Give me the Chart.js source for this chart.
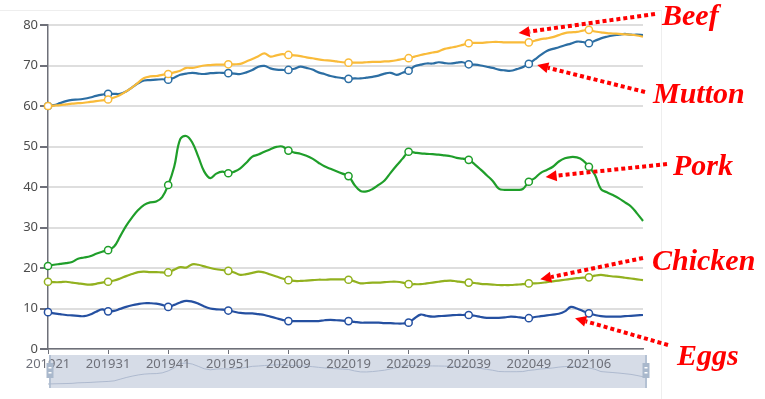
<!DOCTYPE html>
<html lang="en">
<head>
<meta charset="UTF-8">
<title>Meat prices</title>
<style>
  body { margin: 0; background: #fff; }
  #chart { display: block; }
</style>
</head>
<body>
<canvas id="chart" width="765" height="399"></canvas>
<script src="https://cdn.jsdelivr.net/npm/chart.js@4/dist/chart.umd.min.js"></script>
<script>
// week codes (yyyyww), 201921 .. 202115
const weeks = [
  '201921','201922','201923','201924','201925','201926','201927','201928','201929','201930',
  '201931','201932','201933','201934','201935','201936','201937','201938','201939','201940',
  '201941','201942','201943','201944','201945','201946','201947','201948','201949','201950',
  '201951','201952','202001','202002','202003','202004','202005','202006','202007','202008',
  '202009','202010','202011','202012','202013','202014','202015','202016','202017','202018',
  '202019','202020','202021','202022','202023','202024','202025','202026','202027','202028',
  '202029','202030','202031','202032','202033','202034','202035','202036','202037','202038',
  '202039','202040','202041','202042','202043','202044','202045','202046','202047','202048',
  '202049','202050','202051','202052','202053','202101','202102','202103','202104','202105',
  '202106','202107','202108','202109','202110','202111','202112','202113','202114','202115'
];

const beef = [
  60.0,60.1,60.2,60.4,60.6,60.7,60.8,61.0,61.2,61.4,
  61.6,62.1,62.7,63.6,64.6,65.8,66.9,67.3,67.4,67.7,
  67.9,68.3,68.7,69.4,69.4,69.7,70.0,70.1,70.2,70.2,
  70.3,70.3,70.4,71.0,71.6,72.3,73.0,72.2,72.5,72.8,
  72.6,72.5,72.3,72.0,71.8,71.5,71.3,71.2,71.0,70.8,
  70.7,70.7,70.7,70.8,70.9,70.9,71.0,71.1,71.3,71.6,
  71.8,72.2,72.6,72.9,73.2,73.5,74.1,74.4,74.7,75.1,
  75.5,75.6,75.6,75.7,75.8,75.8,75.7,75.7,75.7,75.7,
  75.7,76.1,76.5,76.7,77.0,77.5,78.0,78.2,78.3,78.6,
  78.8,78.4,78.2,78.0,77.9,77.8,77.7,77.6,77.4,77.1
];

const mutton = [
  60.0,60.2,60.7,61.2,61.5,61.6,61.8,62.1,62.5,62.8,
  63.0,63.0,63.0,63.6,64.6,65.6,66.3,66.4,66.5,66.6,
  66.5,67.0,67.7,68.0,68.2,68.0,67.9,68.1,68.2,68.2,
  68.1,68.0,67.9,68.3,68.9,69.7,69.9,69.3,69.0,68.9,
  68.9,69.2,69.7,69.4,69.0,68.3,67.9,67.4,67.1,66.9,
  66.7,66.8,66.8,67.0,67.2,67.5,68.0,68.2,67.7,68.2,
  68.7,69.8,70.2,70.5,70.5,70.8,70.6,70.5,70.7,70.8,
  70.3,70.2,70.0,69.7,69.4,69.0,68.8,68.7,69.1,69.6,
  70.4,71.5,72.6,73.6,74.1,74.5,75.0,75.4,75.9,75.8,
  75.5,76.1,76.7,77.1,77.4,77.6,77.8,77.6,77.6,77.5
];

const pork = [
  20.5,20.8,21.0,21.2,21.5,22.3,22.6,22.9,23.5,24.0,
  24.4,25.3,27.8,30.4,32.5,34.3,35.6,36.2,36.4,37.5,
  40.5,45.0,51.8,52.6,51.0,47.5,43.8,42.2,43.3,43.8,
  43.4,43.8,44.6,46.0,47.5,48.0,48.7,49.3,49.9,50.0,
  49.0,48.5,48.2,47.7,47.0,46.0,45.1,44.5,43.9,43.3,
  42.7,40.5,39.0,38.9,39.5,40.5,41.6,43.5,45.3,47.0,
  48.7,48.5,48.3,48.2,48.1,48.0,47.8,47.6,47.2,47.0,
  46.7,45.6,44.3,42.9,41.5,39.6,39.3,39.3,39.3,39.5,
  41.3,42.2,43.5,44.2,45.0,46.3,47.1,47.4,47.3,46.6,
  45.0,43.0,39.5,38.7,38.0,37.2,36.2,35.2,33.5,31.6
];

const chicken = [
  16.6,16.5,16.5,16.6,16.4,16.2,16.0,15.9,16.1,16.4,
  16.6,16.9,17.4,18.0,18.5,19.0,19.1,19.0,19.0,18.9,
  18.9,19.6,20.2,20.1,20.9,20.8,20.4,20.0,19.7,19.5,
  19.3,18.9,18.3,18.5,18.8,19.1,18.9,18.4,17.9,17.4,
  17.0,16.8,16.8,16.9,17.0,17.1,17.1,17.2,17.2,17.2,
  17.1,16.7,16.2,16.3,16.4,16.4,16.5,16.6,16.6,16.4,
  16.0,16.0,16.0,16.2,16.4,16.6,16.8,16.9,16.7,16.5,
  16.4,16.3,16.1,16.0,15.9,15.8,15.8,15.8,15.9,16.0,
  16.2,16.2,16.3,16.5,16.7,16.9,17.1,17.3,17.5,17.6,
  17.7,18.1,18.3,18.1,17.9,17.8,17.6,17.4,17.2,17.0
];

const eggs = [
  9.1,8.8,8.6,8.4,8.3,8.2,8.1,8.5,9.2,9.8,
  9.3,9.4,9.9,10.4,10.8,11.1,11.3,11.3,11.2,10.9,
  10.4,10.9,11.5,11.9,11.7,11.2,10.5,10.0,9.8,9.7,
  9.5,9.2,8.9,8.8,8.8,8.6,8.4,8.0,7.6,7.2,
  6.9,6.9,6.9,6.9,6.9,6.9,7.1,7.2,7.1,7.0,
  6.9,6.7,6.5,6.5,6.5,6.5,6.4,6.4,6.3,6.3,
  6.5,7.6,8.5,8.2,8.0,8.1,8.2,8.3,8.4,8.4,
  8.4,8.2,7.9,7.7,7.7,7.7,7.8,8.0,7.9,7.7,
  7.6,7.9,8.1,8.3,8.5,8.7,9.3,10.4,10.0,9.4,
  8.8,8.4,8.1,8.0,8.0,8.0,8.1,8.2,8.3,8.4
];

const yTicks = [0, 10, 20, 30, 40, 50, 60, 70, 80];

// callouts on the right: tip is given in data units (index, value)
const callouts = [
  { text: 'Beef',    tx: 662, ty: 25,  from: [655, 14],  tip: [78.3, 78.0] },
  { text: 'Mutton',  tx: 653, ty: 103, from: [645, 92],  tip: [81.4, 70.1] },
  { text: 'Pork',    tx: 673, ty: 175, from: [667, 164], tip: [82.8, 42.5] },
  { text: 'Chicken', tx: 652, ty: 270, from: [643, 258], tip: [81.9, 17.2] },
  { text: 'Eggs',    tx: 677, ty: 365, from: [668, 345], tip: [87.7, 7.6] }
];

function series(label, data, color) {
  return {
    label: label,
    data: data,
    borderColor: color,
    borderWidth: 2.2,
    tension: 0.4,
    pointRadius: (c) => c.dataIndex % 10 === 0 ? 3.6 : 0,
    pointHoverRadius: 0,
    pointBackgroundColor: '#fff',
    pointBorderColor: color,
    pointBorderWidth: 1.5,
    fill: false
  };
}

function drawArrow(ctx, x1, y1, x2, y2) {
  const ang = Math.atan2(y2 - y1, x2 - x1);
  const head = 11;
  const bx = x2 - Math.cos(ang) * head, by = y2 - Math.sin(ang) * head;
  ctx.save();
  ctx.strokeStyle = '#f00';
  ctx.fillStyle = '#f00';
  ctx.lineWidth = 4;
  ctx.setLineDash([4, 3]);
  ctx.beginPath();
  ctx.moveTo(x1, y1);
  ctx.lineTo(bx, by);
  ctx.stroke();
  ctx.setLineDash([]);
  ctx.beginPath();
  ctx.moveTo(x2, y2);
  ctx.lineTo(bx + Math.sin(ang) * 5.5, by - Math.cos(ang) * 5.5);
  ctx.lineTo(bx - Math.sin(ang) * 5.5, by + Math.cos(ang) * 5.5);
  ctx.closePath();
  ctx.fill();
  ctx.restore();
}

// data zoom bar under the x axis (fill first, handles on top of labels)
const sliderPlugin = {
  id: 'slider',
  beforeDraw(chart) {
    const ctx = chart.ctx, a = chart.chartArea, x = chart.scales.x;
    const top = a.bottom + 6, bot = a.bottom + 39;
    ctx.save();
    // page frame lines
    ctx.strokeStyle = '#eeeeee';
    ctx.lineWidth = 1;
    ctx.beginPath();
    ctx.moveTo(0, 10.5); ctx.lineTo(662, 10.5);
    ctx.moveTo(661.5, 10); ctx.lineTo(661.5, 399);
    ctx.stroke();

    ctx.fillStyle = '#d6dce7';
    ctx.fillRect(a.left + 1, top, a.right - a.left + 3, bot - top);
    // data shadow
    let mn = Math.min(...pork), mx = Math.max(...pork);
    ctx.strokeStyle = 'rgba(170,182,204,0.9)';
    ctx.lineWidth = 1;
    ctx.beginPath();
    pork.forEach((v, i) => {
      const px = x.getPixelForValue(i);
      const py = bot - 4 - (v - mn) / (mx - mn) * (bot - top - 12);
      if (i === 0) ctx.moveTo(px, py); else ctx.lineTo(px, py);
    });
    ctx.stroke();
    ctx.restore();
  },
  afterDraw(chart) {
    const ctx = chart.ctx, a = chart.chartArea;
    const top = a.bottom + 6, bot = a.bottom + 39;
    ctx.save();
    [a.left + 2, a.right + 3].forEach((hx) => {
      ctx.strokeStyle = '#a9b8cc';
      ctx.lineWidth = 1.5;
      ctx.beginPath();
      ctx.moveTo(hx, top); ctx.lineTo(hx, bot);
      ctx.stroke();
      ctx.fillStyle = '#a9b8cc';
      ctx.fillRect(hx - 3.5, top + 8, 7, 15);
      ctx.fillStyle = '#fff';
      ctx.fillRect(hx - 1.5, top + 12, 3, 1.5);
      ctx.fillRect(hx - 1.5, top + 17, 3, 1.5);
    });
    ctx.restore();

    // callouts
    const xs = chart.scales.x, ys = chart.scales.y;
    ctx.save();
    ctx.font = 'italic bold 30px "Liberation Serif", "Times New Roman", serif';
    ctx.fillStyle = '#f00';
    ctx.textBaseline = 'alphabetic';
    callouts.forEach((c) => {
      const tx = xs.getPixelForValue(c.tip[0]);
      const ty = ys.getPixelForValue(c.tip[1]);
      drawArrow(ctx, c.from[0], c.from[1], tx, ty);
      ctx.fillText(c.text, c.tx, c.ty);
    });
    ctx.restore();
  }
};

window.addEventListener('load', function () {
  const ctx = document.getElementById('chart');
  new Chart(ctx, {
    type: 'line',
    data: {
      labels: weeks,
      datasets: [
        series('Beef', beef, '#f9bb3a'),
        series('Mutton', mutton, '#2c6ea3'),
        series('Pork', pork, '#1f9e2a'),
        series('Chicken', chicken, '#92b11f'),
        series('Eggs', eggs, '#2550a1')
      ]
    },
    options: {
      responsive: false,
      animation: false,
      devicePixelRatio: 1,
      layout: { padding: { left: 0, right: 122, top: 25, bottom: 0 } },
      plugins: {
        legend: { display: false },
        tooltip: { enabled: false }
      },
      scales: {
        x: {
          offset: false,
          afterFit: (s) => { s.height = 50; },
          border: { color: '#6e7079', width: 1.5 },
          grid: {
            drawOnChartArea: false,
            drawTicks: true,
            tickLength: 5,
            color: (c) => c.index % 10 === 0 ? '#6e7079' : 'rgba(0,0,0,0)'
          },
          ticks: {
            autoSkip: false,
            maxRotation: 0,
            padding: 2,
            color: '#6e7079',
            font: { family: '"Noto Sans", sans-serif', size: 13 },
            callback: (v, i) => i % 10 === 0 ? weeks[i] : ''
          }
        },
        y: {
          min: yTicks[0],
          max: yTicks[yTicks.length - 1],
          afterFit: (s) => { s.width = 48; },
          afterBuildTicks: (s) => { s.ticks = yTicks.map((v) => ({ value: v })); },
          border: { color: '#6e7079', width: 1.5 },
          grid: {
            color: '#dedede',
            lineWidth: 2,
            tickColor: '#6e7079',
            tickLength: 8
          },
          ticks: {
            padding: 2,
            color: '#4d4d4d',
            font: { family: '"Noto Sans", sans-serif', size: 13 }
          }
        }
      }
    },
    plugins: [sliderPlugin]
  });
});
</script>
</body>
</html>
